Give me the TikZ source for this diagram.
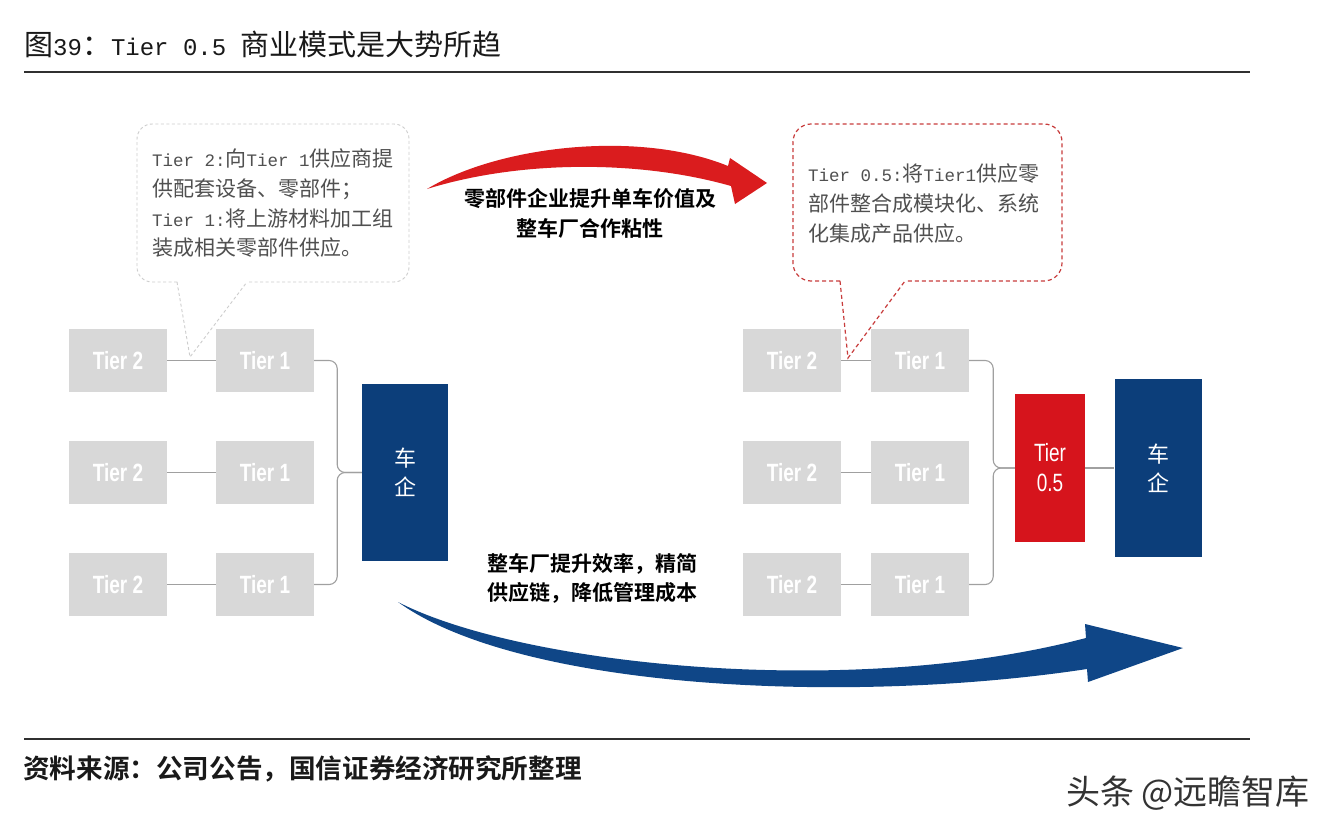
\documentclass[tikz,border=0pt]{standalone}
\usepackage{fontspec}
\newfontfamily\cn[BoldFont={Noto Sans CJK SC Bold}]{Noto Sans CJK SC}
\newfontfamily\lm{Liberation Mono}
\newfontfamily\tierf[FakeStretch=0.76]{Liberation Sans}
\definecolor{tiergray}{RGB}{216,216,216}
\definecolor{navy}{RGB}{12,62,122}
\definecolor{arrowblue}{RGB}{15,70,135}
\definecolor{boxred}{RGB}{214,20,28}
\definecolor{arrowred}{RGB}{218,28,30}
\definecolor{conngray}{RGB}{160,160,160}
\definecolor{calltext}{RGB}{80,80,80}
\definecolor{titlec}{RGB}{25,25,25}
\definecolor{callred}{RGB}{200,60,60}
\definecolor{callgray}{RGB}{205,205,205}
\newcommand{\lmc}{\lm\fontsize{17.5}{30}\selectfont}
\tikzset{
  tierbox/.style={fill=tiergray, text=white, minimum width=98pt, minimum height=63pt, inner sep=0pt,
    font=\tierf\bfseries\fontsize{25}{25}\selectfont},
  carbox/.style={fill=navy, text=white, inner sep=0pt, align=center,
    font=\cn\fontsize{22}{29}\selectfont},
  conn/.style={draw=conngray, line width=1.1pt},
  rule/.style={draw=titlec!90, line width=2pt},
  calltxt/.style={anchor=base west, inner sep=0pt, text=calltext, font=\cn\fontsize{21}{30}\selectfont},
  lbl/.style={anchor=base, inner sep=0pt, text=black, font=\cn\bfseries\fontsize{21}{30}\selectfont},
  callL/.style={draw=callgray, line width=0.9pt, dash pattern=on 3pt off 2.5pt},
  callR/.style={draw=callred, line width=1.2pt, dash pattern=on 4pt off 3pt},
}
\begin{document}
\begin{tikzpicture}[x=1pt,y=-1pt]
\useasboundingbox (0,0) rectangle (1336,832);
\fill[white] (0,0) rectangle (1336,832);

% title
\node[anchor=base west, inner sep=0pt, text=titlec] (title) at (24,56)
  {\cn\fontsize{29}{29}\selectfont 图{\lm\fontsize{24}{24}\selectfont 39}：{\lm\fontsize{24}{24}\selectfont Tier 0.5 }商业模式是大势所趋};
\draw[rule] (24,72) -- (1250,72);
\draw[rule] (24,739) -- (1250,739);
\node[anchor=base west, inner sep=0pt, text=titlec] (src) at (23,778)
  {\cn\bfseries\fontsize{26.6}{28}\selectfont 资料来源：公司公告，国信证券经济研究所整理};
\node[anchor=base west, inner sep=0pt, text=black!80] (wm) at (1066,804)
  {\cn\fontsize{34}{34}\selectfont 头条 @远瞻智库};

% left boxes
\node[tierbox] (l21) at (118,360.5) {Tier 2};
\node[tierbox] (l22) at (118,472.5) {Tier 2};
\node[tierbox] (l23) at (118,584.5) {Tier 2};
\node[tierbox] (l11) at (265,360.5) {Tier 1};
\node[tierbox] (l12) at (265,472.5) {Tier 1};
\node[tierbox] (l13) at (265,584.5) {Tier 1};
\node[carbox, minimum width=86pt, minimum height=177pt] (lcar) at (405,472.5) {车\\企};

\draw[conn] (l21) -- (l11);
\draw[conn] (l22) -- (l12);
\draw[conn] (l23) -- (l13);
\draw[conn, rounded corners=8pt] (l11.east) -- ++(23,0) |- (lcar.west);
\draw[conn, rounded corners=8pt] (l13.east) -- ++(23,0) |- (lcar.west);

% right boxes
\node[tierbox] (r21) at (792,360.5) {Tier 2};
\node[tierbox] (r22) at (792,472.5) {Tier 2};
\node[tierbox] (r23) at (792,584.5) {Tier 2};
\node[tierbox] (r11) at (920,360.5) {Tier 1};
\node[tierbox] (r12) at (920,472.5) {Tier 1};
\node[tierbox] (r13) at (920,584.5) {Tier 1};
\node[fill=boxred, text=white, inner sep=0pt, align=center, minimum width=70pt, minimum height=148pt,
  font=\tierf\fontsize{25}{30}\selectfont] (t05) at (1050,468) {Tier\\0.5};
\node[carbox, minimum width=87pt, minimum height=178pt] (rcar) at (1158,468) {车\\企};

\draw[conn] (r21) -- (r11);
\draw[conn] (r22) -- (r12);
\draw[conn] (r23) -- (r13);
\draw[conn, rounded corners=8pt] (r11.east) -- ++(24,0) |- (t05.west);
\draw[conn, rounded corners=8pt] (r13.east) -- ++(24,0) |- (t05.west);
\draw[conn] (t05) -- (rcar);

% left callout
\coordinate (lpa) at (177,282);
\coordinate (lpb) at (247,282);
\coordinate (lptip) at (190,357);
\draw[callL, rounded corners=15pt] (lpa) -- (137,282) -- (137,124) -- (409,124) -- (409,282) -- (lpb);
\draw[callL] (lpa) -- (lptip) -- (lpb);
\node[calltxt] (lt1) at (152,166) {{\lmc Tier 2:}向{\lmc Tier 1}供应商提};
\node[calltxt] (lt2) at (152,196) {供配套设备、零部件；};
\node[calltxt] (lt3) at (152,226) {{\lmc Tier 1:}将上游材料加工组};
\node[calltxt] (lt4) at (152,255) {装成相关零部件供应。};

% right callout
\coordinate (rpa) at (840,281);
\coordinate (rpb) at (905,281);
\coordinate (rptip) at (848,358);
\draw[callR, rounded corners=18pt] (rpa) -- (793,281) -- (793,124) -- (1062,124) -- (1062,281) -- (rpb);
\draw[callR] (rpa) -- (rptip) -- (rpb);
\node[calltxt] (rt1) at (808,181) {{\lmc Tier 0.5:}将{\lmc Tier1}供应零};
\node[calltxt] (rt2) at (808,211) {部件整合成模块化、系统};
\node[calltxt] (rt3) at (808,241) {化集成产品供应。};

% red arrow
\fill[arrowred] (427,189) .. controls (500,145) and (640,130) .. (728,166)
  -- (730,158) -- (767,183) -- (735,204) -- (731,186)
  .. controls (640,160) and (520,160) .. (427,189) -- cycle;
\node[lbl] (rl1) at (590,206) {零部件企业提升单车价值及};
\node[lbl] (rl2) at (590,236) {整车厂合作粘性};

% blue arrow
\fill[arrowblue] (398,602) .. controls (520,665) and (850,700) .. (1086,638)
  -- (1085,624) -- (1183,648) -- (1088,682) -- (1087,669)
  .. controls (850,705) and (520,690) .. (398,602) -- cycle;
\node[lbl] (bl1) at (592,571) {整车厂提升效率，精简};
\node[lbl] (bl2) at (592,600) {供应链，降低管理成本};
\end{tikzpicture}
\end{document}
